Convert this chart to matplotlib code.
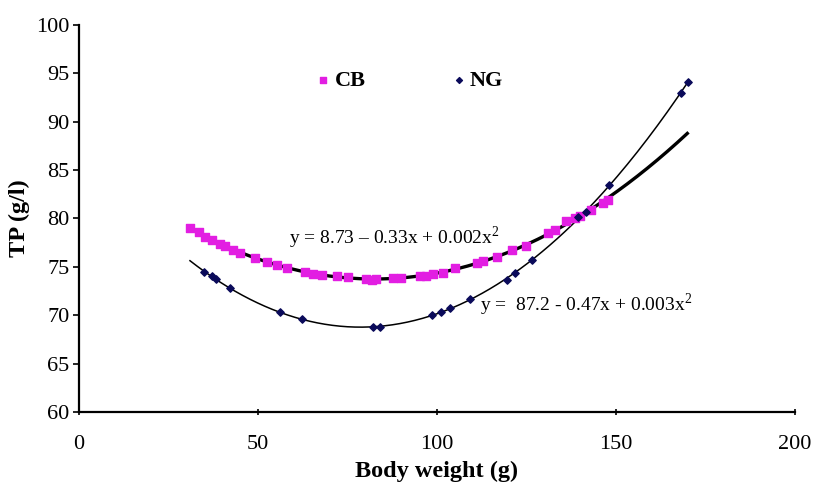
import numpy as np
import matplotlib
matplotlib.use("Agg")
import matplotlib.pyplot as plt

# CB points (body weight g, TP g/l)
cb_x = [31.0, 33.5, 35.2, 37.1, 39.4, 40.8, 43.1, 45.0, 49.2, 52.4, 55.2, 58.0, 63.1,
        65.4, 68.0, 72.0, 75.2, 80.3, 82.0, 83.1, 87.8, 90.0, 95.3, 97.0, 99.0,
        101.8, 105.0, 111.1, 113.0, 116.7, 120.9, 125.0, 131.1, 133.0, 136.2,
        138.5, 140.0, 143.0, 146.5, 147.9]
cb_y = [79.05, 78.6, 78.1, 77.8, 77.4, 77.1, 76.7, 76.4, 75.9, 75.5, 75.2, 74.9, 74.5,
        74.3, 74.2, 74.0, 73.9, 73.7, 73.65, 73.7, 73.8, 73.8, 74.0, 74.1, 74.3,
        74.4, 74.9, 75.4, 75.6, 76.0, 76.7, 77.2, 78.5, 78.8, 79.7,
        80.0, 80.3, 80.9, 81.6, 81.9]

# NG points
ng_x = [35.0, 37.1, 38.3, 42.2, 56.1, 62.2, 82.1, 84.1, 98.7, 101.3, 103.6, 109.2,
        119.5, 121.8, 126.6, 139.5, 141.8, 148.1, 168.3, 170.2]
ng_y = [74.5, 74.0, 73.7, 72.8, 70.3, 69.6, 68.8, 68.8, 70.0, 70.3, 70.7, 71.7,
        73.6, 74.4, 75.7, 80.1, 80.7, 83.5, 93.0, 94.1]

eq_cb = "y = 8.73 \u2013 0.33x + 0.002x$^2$"
eq_ng = "y =  87.2 - 0.47x + 0.003x$^2$"

plt.rcParams['font.family'] = ['Liberation Serif', 'DejaVu Serif']
plt.rcParams['mathtext.fontset'] = 'custom'
plt.rcParams['mathtext.rm'] = 'Liberation Serif'

fig = plt.figure(figsize=(8.15, 4.87), dpi=100)
ax = fig.add_axes([0.097, 0.154, 0.878, 0.795])

# quadratic trend lines
xx = np.linspace(31, 170, 200)
p_cb = np.polyfit(cb_x, cb_y, 2)
p_ng = np.polyfit(ng_x, ng_y, 2)
ax.plot(xx, np.polyval(p_cb, xx), color='black', lw=2.4, zorder=2)
ax.plot(xx, np.polyval(p_ng, xx), color='black', lw=1.1, zorder=2)

ax.scatter(cb_x, cb_y, marker='s', s=32, color='#E21EE2', zorder=3, label='CB')
ax.scatter(ng_x, ng_y, marker='D', s=14, color='#0A0A5A', zorder=3, label='NG')

ax.set_xlim(0, 200)
ax.set_ylim(60, 100)
ax.set_xticks(range(0, 201, 50))
ax.set_yticks(range(60, 101, 5))
ax.tick_params(labelsize=16, direction='out', length=4, width=1.2)
ax.tick_params(axis='x', direction='inout', length=5, pad=14)
ax.tick_params(axis='y', pad=3)
for s in ['top', 'right']:
    ax.spines[s].set_visible(False)
for s in ['left', 'bottom']:
    ax.spines[s].set_linewidth(1.6)

ax.annotate(eq_cb, xy=(58.6, 78.0), fontsize=14, va='center')
ax.annotate(eq_ng, xy=(112, 71.1), fontsize=14, va='center')

ax.set_xlabel('Body weight (g)', fontsize=17.5, fontweight='bold', labelpad=5)
ax.set_ylabel('TP (g/l)', fontsize=17.5, fontweight='bold', labelpad=4)

ax.legend(loc='center left', bbox_to_anchor=(0.298, 0.855), ncol=2, frameon=False,
          prop={'weight': 'bold', 'size': 16}, handletextpad=0.0,
          columnspacing=3.7, scatterpoints=1, markerscale=0.8,
          handlelength=1.0)

fig.savefig('out.png', dpi=100)
